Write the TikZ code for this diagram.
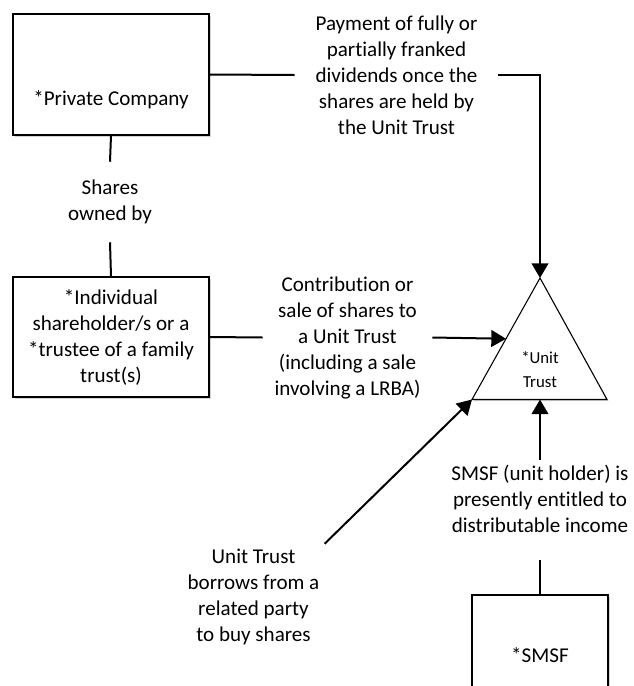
\documentclass[tikz,border=0pt]{standalone}
\usepackage{fontspec}
\setmainfont{Carlito}[Ligatures=NoCommon]
\usetikzlibrary{arrows.meta,shadows,calc}

\begin{document}
\begin{tikzpicture}[x=0.75pt,y=-0.75pt,
        box/.style={draw,fill=white,line width=0.8pt,inner sep=0pt,
            drop shadow={shadow xshift=1.3pt,shadow yshift=-1.3pt,opacity=0.35}},
        txt/.style={align=center,inner sep=0pt,font=\fontsize{15.8}{19.5}\selectfont},
        link/.style={line width=1.5pt},
        flow/.style={link,-{Triangle[length=11pt,width=12.5pt]}}]
        \useasboundingbox (0,0) rectangle (633,686);
        \clip (0,0) rectangle (633,686);
        % boxes
        \node [box,minimum width=147pt,minimum height=90.75pt] (pc) at (111,74.5) {};
        \node [txt] (pc text) at (111,100) {*Private Company};
        \node [box,txt,minimum width=147pt,minimum height=90pt] (ind) at (111,337)
            {*Individual\\shareholder/s or a\\*trustee of a family\\trust(s)};
        \node [box,txt,minimum width=102pt,minimum height=90.75pt] (smsf) at (540,655.5) {*SMSF};
        % unit trust
        \coordinate (ut top) at (540,278);
        \coordinate (ut left) at (472,399.5);
        \coordinate (ut right) at (607,399.5);
        \coordinate (ut base) at (540,399.5);
        \draw [fill=white,line width=0.8pt,
            drop shadow={shadow xshift=1.3pt,shadow yshift=-1.3pt,opacity=0.35}]
            (ut top) -- (ut right) -- (ut left) -- cycle;
        \node [txt,font=\fontsize{12.6}{18}\selectfont] (ut) at (540,370) {*Unit\\Trust};
        % labels
        \node [txt,minimum width=152.25pt] (pay) at (396.5,75)
            {Payment of fully or\\partially franked\\dividends once the\\shares are held by\\the Unit Trust};
        \node [txt,minimum height=60pt] (shares) at (110,202) {Shares\\owned by};
        \node [txt,minimum width=126.75pt] (contrib) at (347.5,337.5)
            {Contribution or\\sale of shares to\\a Unit Trust\\(including a sale\\involving a LRBA)};
        \node [txt,inner sep=3.75pt] (borrow) at (253.5,597)
            {Unit Trust\\borrows from a\\related party\\to buy shares};
        \node [txt,inner sep=3.75pt] (entitled) at (540,499)
            {SMSF (unit holder) is\\presently entitled to\\distributable income};
        \coordinate (smsf end) at (540,560);
        % connectors
        \draw [link] (pc.east) -- (pay.west);
        \draw [flow] (pay.east) -| (ut top);
        \draw [link] (pc.south) -- (shares.north);
        \draw [link] (shares.south) -- (ind.north);
        \draw [link] (ind.east) -- (contrib.west);
        \draw [flow] (contrib.east) -- ($(ut top)!0.5!(ut left)$);
        \draw [flow] (borrow.north east) -- (ut left);
        \draw [link] (smsf.north) -- (smsf end);
        \draw [flow] (entitled.north) -- (ut base);
    \end{tikzpicture}
\end{document}
